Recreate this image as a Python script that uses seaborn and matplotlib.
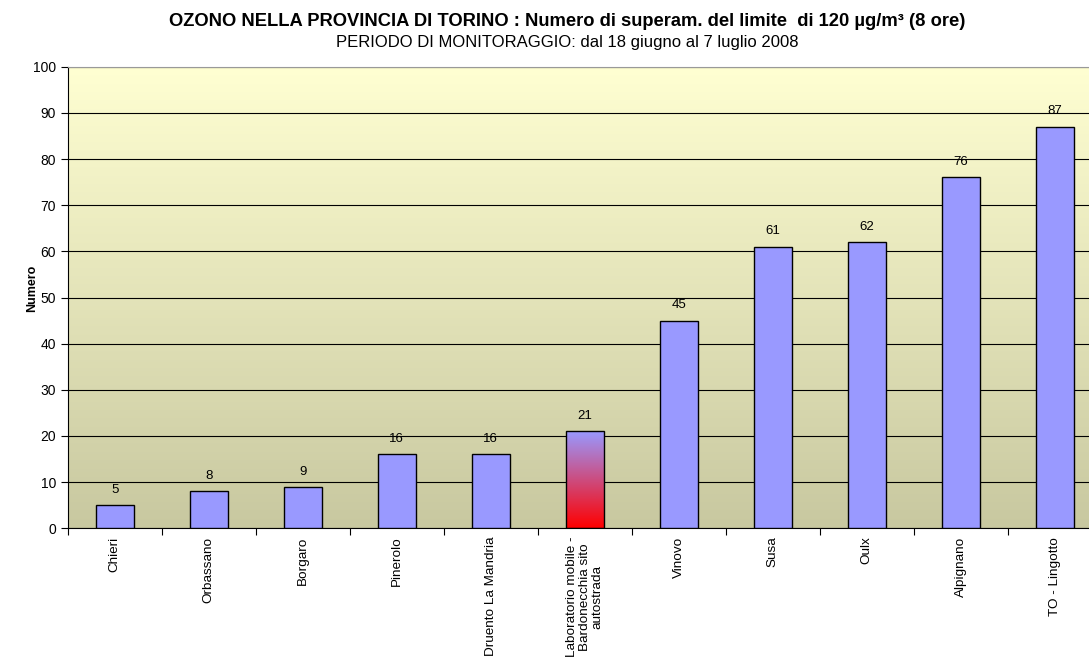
import numpy as np
import pandas as pd
import matplotlib
matplotlib.use("Agg")
import matplotlib.pyplot as plt
import seaborn as sns
from matplotlib.colors import LinearSegmentedColormap

stations = ["Chieri", "Orbassano", "Borgaro", "Pinerolo", "Druento La Mandria",
            "Laboratorio mobile -\nBardonecchia sito\nautostrada",
            "Vinovo", "Susa", "Oulx", "Alpignano", "TO - Lingotto"]
exceedances = [5, 8, 9, 16, 16, 21, 45, 61, 62, 76, 87]
yticks = list(range(0, 101, 10))

sns.set_theme(style="white")
plt.rcParams['font.family'] = ['Liberation Sans', 'DejaVu Sans']
plt.rcParams['text.color'] = 'black'
plt.rcParams['axes.labelcolor'] = 'black'
plt.rcParams['xtick.color'] = 'black'
plt.rcParams['ytick.color'] = 'black'

df = pd.DataFrame({"stazione": stations, "numero": exceedances})

W, H = 1089, 662
fig = plt.figure(figsize=(W / 100, H / 100), dpi=100)
left_px, right_px, top_px, bot_px = 67.7, 1101.7, 66.7, 528.3
ax = fig.add_axes([left_px / W, 1 - bot_px / H, (right_px - left_px) / W, (bot_px - top_px) / H])

# gradient background
bg = LinearSegmentedColormap.from_list("bg", ["#C8C8A0", "#FFFFD2"])
grad = np.linspace(0, 1, 256).reshape(-1, 1)
ax.imshow(grad, aspect="auto", cmap=bg, origin="lower", extent=[0, 1, 0, 1],
          transform=ax.transAxes, zorder=0)

sns.barplot(data=df, x="stazione", y="numero", color="#9999FF", saturation=1,
            width=0.404, edgecolor="black", linewidth=1, ax=ax, zorder=3)

ax.yaxis.grid(True, color="black", linewidth=0.8, zorder=1)
ax.set_axisbelow(True)

# gradient bar (blue at top to red at bottom)
bar = ax.patches[5]
bar.set_facecolor("none")
rc = LinearSegmentedColormap.from_list("rb", ["#FF0000", "#9999FF"])
x0, y0 = bar.get_x(), bar.get_y()
w, h = bar.get_width(), bar.get_height()
im = ax.imshow(grad, aspect="auto", cmap=rc, origin="lower",
               extent=[x0, x0 + w, y0, y0 + h], zorder=2.5)
im.set_clip_path(bar)
ax.set_xlim(-0.5, len(stations) - 0.5)
ax.set_ylim(0, 100)
ax.set_yticks(yticks)

for i, v in enumerate(exceedances):
    ax.text(i, v + 2, str(v), ha="center", va="bottom", fontsize=9.5, zorder=4,
            color="black")

ax.set_xticks(range(len(stations)))
ax.set_xticklabels(stations, rotation=90, fontsize=9.7, va="top", ha="center",
                   multialignment="center", linespacing=1.05)
ax.tick_params(axis="x", length=0, pad=6)
ax.set_xticks(np.arange(-0.5, len(stations) + 0.5, 1), minor=True)
ax.tick_params(axis="x", which="minor", length=5, width=0.8, color="black",
               direction="out", bottom=True)
ax.tick_params(axis="y", length=5, width=0.8, color="black", direction="out",
               left=True, labelsize=10)

ax.set_xlabel("")
ax.set_ylabel("Numero", fontsize=9, fontweight="bold")
ax.yaxis.set_label_coords((38 - left_px) / (right_px - left_px), 0.52)

for s in ["left", "bottom"]:
    ax.spines[s].set_color("black")
    ax.spines[s].set_linewidth(0.8)
for s in ["top", "right"]:
    ax.spines[s].set_color("#999999")
    ax.spines[s].set_linewidth(0.8)

fig.text(567 / W, 1 - 21 / H,
         "OZONO NELLA PROVINCIA DI TORINO : Numero di superam. del limite  di 120 µg/m³ (8 ore)",
         ha="center", va="center", fontsize=13.2, fontweight="bold")
fig.text(567 / W, 1 - 43 / H, "PERIODO DI MONITORAGGIO: dal 18 giugno al 7 luglio 2008",
         ha="center", va="center", fontsize=12)

fig.savefig("out.png", dpi=100)
